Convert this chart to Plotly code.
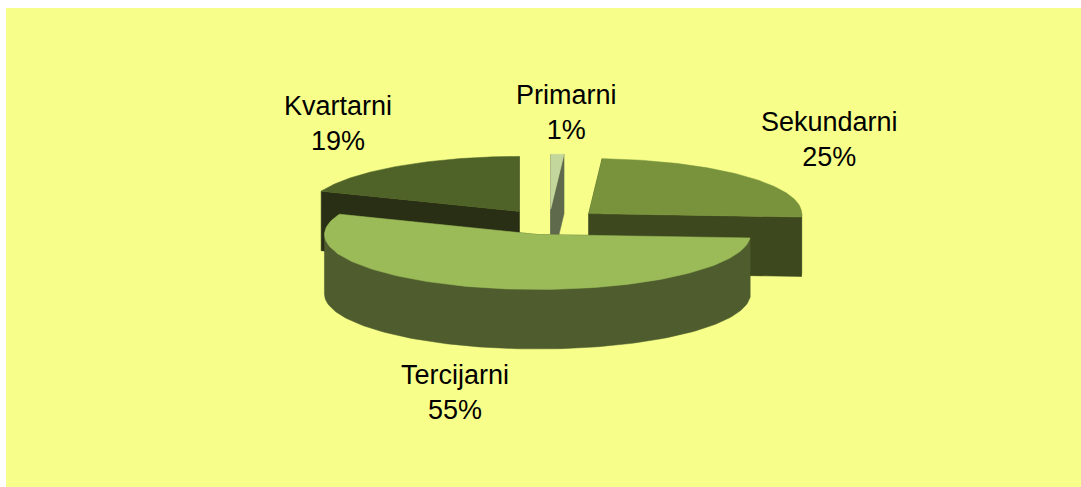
import numpy as np
import plotly.graph_objects as go

categories = ["Primarni", "Sekundarni", "Tercijarni", "Kvartarni"]
values = [1, 25, 55, 19]
top_colors = ["#c3d69b", "#78933c", "#9bbb59", "#4f6228"]
cut_colors = ["#5f6a4d", "#3e481e", "#4f5d2e", "#292f14"]
wall_colors = ["#5f6a4d", "#3e481e", "#4f5d2e", "#292f14"]
draw_order = [3, 0, 1, 2]
label_xy = [(566, 112), (829, 139), (455, 392), (338, 123)]

CX, CY, RX, RY, EXPLODE_X, EXPLODE_Y, DEPTH = 549.0, 222.0, 213.0, 55.0, 53.0, 12.8, 59.5
BG = "#f7ff8a"

total = sum(values)
edges = np.cumsum([0] + values) / total * 2 * np.pi


def apex(a0, a1):
    m = (a0 + a1) / 2
    return CX + EXPLODE_X * np.sin(m), CY - EXPLODE_Y * np.cos(m)


def rim(a0, a1, ax, ay, n=120):
    t = np.linspace(a0, a1, n)
    return ax + RX * np.sin(t), ay - RY * np.cos(t)


def face(fig, xs, ys, color):
    fig.add_trace(go.Scatter(
        x=list(xs) + [xs[0]], y=list(ys) + [ys[0]], mode="lines", fill="toself",
        fillcolor=color, line=dict(color=color, width=0.5),
        hoverinfo="skip", showlegend=False))


fig = go.Figure()
for i in draw_order:
    a0, a1 = edges[i], edges[i + 1]
    ax, ay = apex(a0, a1)
    # radial cut faces
    for a in (a0, a1):
        px, py = rim(a, a, ax, ay, 1)
        face(fig, [ax, px[0], px[0], ax], [ay, py[0], py[0] + DEPTH, ay + DEPTH], cut_colors[i])
    # outer wall: only the front half of the rim can be seen
    f0, f1 = max(a0, np.pi / 2), min(a1, 3 * np.pi / 2)
    if f1 > f0:
        wx, wy = rim(f0, f1, ax, ay)
        face(fig, np.r_[wx, wx[::-1]], np.r_[wy, wy[::-1] + DEPTH], wall_colors[i])
    # top face
    tx, ty = rim(a0, a1, ax, ay)
    face(fig, np.r_[ax, tx], np.r_[ay, ty], top_colors[i])

annotations = [
    dict(x=x, y=y, xref="x", yref="y", showarrow=False, align="center",
         text=f"{c}<br>{round(v / total * 100)}%",
         font=dict(family="Liberation Sans, Arial, sans-serif", size=27, color="black"))
    for c, v, (x, y) in zip(categories, values, label_xy)
]

fig.update_layout(
    width=1081, height=487, autosize=False,
    margin=dict(l=6, t=8, r=0, b=0, pad=0),
    paper_bgcolor="white", plot_bgcolor=BG,
    xaxis=dict(range=[6, 1081], visible=False, fixedrange=True),
    yaxis=dict(range=[487, 8], visible=False, fixedrange=True),
    annotations=annotations,
)
fig.write_html("out.html", config={"displayModeBar": False},
               post_script="document.body.style.margin='0';document.body.style.overflow='hidden';")
